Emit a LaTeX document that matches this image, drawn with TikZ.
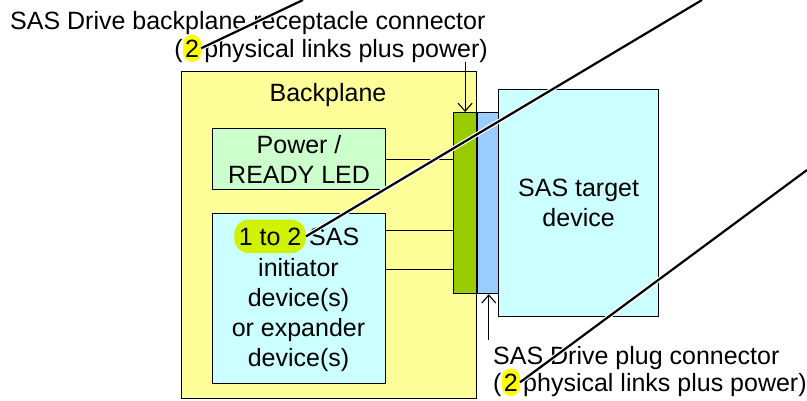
\documentclass[tikz,border=0pt]{standalone}
\usepackage{fontspec}
\setmainfont{Liberation Sans}
\usetikzlibrary{positioning, arrows.meta, calc}
\definecolor{bpyellow}{HTML}{FFFF99}
\definecolor{pwgreen}{HTML}{CCFFCC}
\definecolor{devcyan}{HTML}{CCFFFF}
\definecolor{rcvgreen}{HTML}{99CC00}
\definecolor{plugblue}{HTML}{99CCFF}
\definecolor{hlyellow}{HTML}{FFFF00}
\definecolor{hllime}{HTML}{D0F200}

\begin{document}
\begin{tikzpicture}[
  x=1pt, y=-1pt,
  every node/.style={font=\fontsize{25}{30}\selectfont},
  box/.style  = {draw=black, line width=1.2pt, inner sep=0pt, anchor=north west, align=center},
  txt/.style  = {inner sep=0pt},
  hly/.style  = {fill=hlyellow, rounded corners=9pt, inner xsep=2pt, inner ysep=5pt},
  hlg/.style  = {fill=hllime, rounded corners=15pt, inner xsep=4.5pt, inner ysep=8pt},
  wire/.style = {line width=1pt},
  pin/.style  = {-{Straight Barb[length=8pt,width=14pt]}, line width=1.1pt},
  call/.style = {draw=white, double=black, double distance=2.2pt, line width=1.2pt},
]
  \useasboundingbox (0,0) rectangle (807,400);
  % backplane side
  \node[box, fill=bpyellow, minimum width=295pt, minimum height=327pt] (bp) at (181,71) {};
  \node[txt] (bplbl) at (328,95) {Backplane};
  \node[box, fill=pwgreen, minimum width=173pt, minimum height=61pt] (power) at (212,128) {Power /\\READY LED};
  \node[box, fill=devcyan, minimum width=173pt, minimum height=170pt] (init) at (212,213) {};
  \node[hlg, anchor=base east] (initn) at (306,245) {1 to 2};
  \node[txt, right=3pt of initn.base east, anchor=base west] (inits) {SAS};
  \node[txt, align=center, anchor=north] (initl) at (298.5,258) {initiator\\device(s)\\or expander\\device(s)};
  % connectors and drive
  \node[box, fill=rcvgreen, minimum width=23pt, minimum height=181pt] (recv) at (453,112) {};
  \node[box, fill=plugblue, minimum width=22pt, minimum height=181pt] (plugc) at (recv.north east) {};
  \node[box, fill=devcyan, minimum width=160pt, minimum height=227pt] (tgt) at (498,89) {SAS target\\device};
  \coordinate (w1) at ($(init.north east)!.1!(init.south east)$);
  \coordinate (w2) at ($(init.north east)!.33!(init.south east)$);
  \draw[wire] (power.east) -- (power.east -| recv.west);
  \draw[wire] (w1) -- (w1 -| recv.west);
  \draw[wire] (w2) -- (w2 -| recv.west);
  % labels
  \node[txt, anchor=base west] (rcpt) at (10,29) {SAS Drive backplane receptacle connector};
  \node[txt, anchor=base east] (rcptb) at (488,57) {physical links plus power)};
  \node[hly, left=3pt of rcptb.base west, anchor=base east] (rcptn) {2};
  \node[txt, left=0pt of rcptn.base west, anchor=base east] (rcpto) {(};
  \node[txt, anchor=base west] (plugt) at (493,364) {SAS Drive plug connector};
  \node[txt, anchor=base west] (plugo) at (493,391) {(};
  \node[hly, right=0pt of plugo.base east, anchor=base west] (plugn) {2};
  \node[txt, right=3pt of plugn.base east, anchor=base west] (plugb) {physical links plus power)};
  \draw[pin] (rcptb.south -| recv.north) -- (recv.north);
  \draw[pin] ([yshift=6pt]plugt.north -| plugc.south) -- (plugc.south);
  % callouts
  \coordinate (c1) at (303,0);
  \coordinate (c2) at (702,0);
  \coordinate (c3) at (807,170);
  \draw[call] (rcptn.east) -- (c1);
  \draw[call] (initn.east) -- (c2);
  \draw[call] (plugn.east) -- (c3);
\end{tikzpicture}
\end{document}
